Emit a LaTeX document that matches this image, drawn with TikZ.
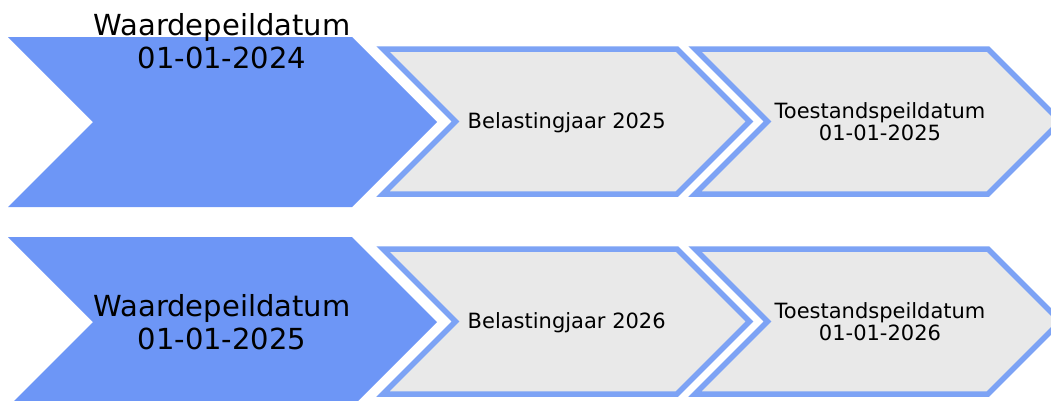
\documentclass[tikz,border=0pt]{standalone}
\usepackage{fontspec}
\setmainfont{DejaVu Sans}
\definecolor{bigblue}{RGB}{109,150,246}
\definecolor{lineblue}{RGB}{125,163,245}
\definecolor{lightgray}{RGB}{233,233,233}
\tikzset{
  bigchev/.style={fill=bigblue, draw=none},
  smallchev/.style={fill=lightgray, draw=lineblue, line width=5.5pt, line join=miter},
  bigtext/.style={align=center, inner sep=0pt, font=\fontsize{29}{33}\selectfont},
  smalltext/.style={align=center, inner sep=0pt, font=\fontsize{21}{22}\selectfont},
}
\begin{document}
\begin{tikzpicture}[x=1pt,y=-1pt]
\useasboundingbox (0,0) rectangle (1051,400);
\clip (0,0) rectangle (1051,400);
\foreach \dy in {0,200}{
  \fill[bigchev] (8,37+\dy) -- (352,37+\dy) -- (437,122+\dy) -- (352,207+\dy) -- (8,207+\dy) -- (93,122+\dy) -- cycle;
  \draw[smallchev] (383,49+\dy) -- (677,49+\dy) -- (749.5,121.5+\dy) -- (677,194+\dy) -- (383,194+\dy) -- (455.5,121.5+\dy) -- cycle;
  \draw[smallchev] (695,49+\dy) -- (988,49+\dy) -- (1060.5,121.5+\dy) -- (988,194+\dy) -- (695,194+\dy) -- (767.5,121.5+\dy) -- cycle;
}
\node[bigtext] (w1) at (222,41.5) {Waardepeildatum\\01-01-2024};
\node[smalltext] (b1) at (566.7,122.5) {Belastingjaar 2025};
\node[smalltext] (t1) at (880,122) {Toestandspeildatum\\01-01-2025};
\node[bigtext] (w2) at (222,322.5) {Waardepeildatum\\01-01-2025};
\node[smalltext] (b2) at (566.7,322.5) {Belastingjaar 2026};
\node[smalltext] (t2) at (880,322) {Toestandspeildatum\\01-01-2026};
\end{tikzpicture}
\end{document}
